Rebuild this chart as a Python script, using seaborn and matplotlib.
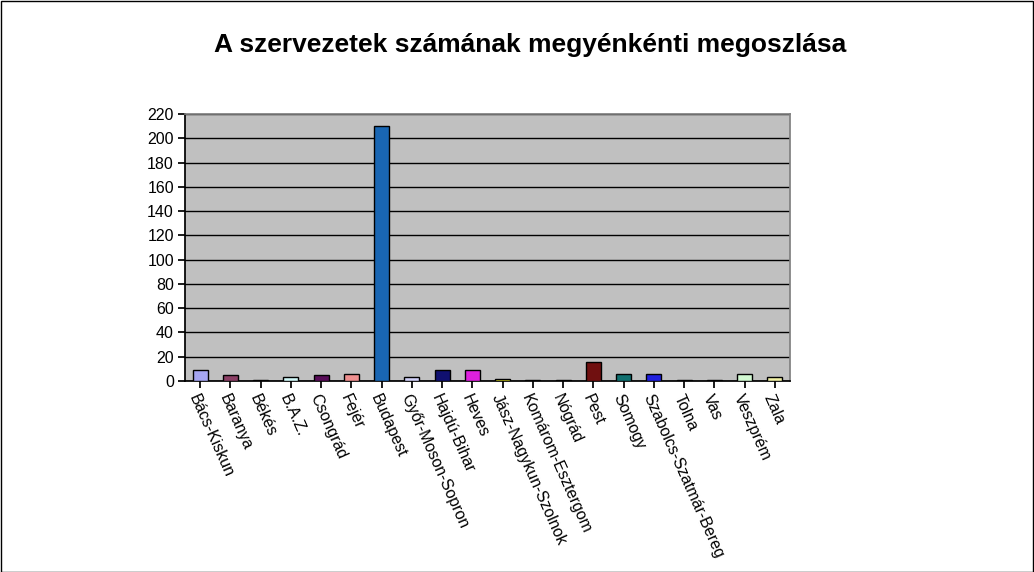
import matplotlib
matplotlib.use("Agg")
import matplotlib.pyplot as plt
import seaborn as sns
import pandas as pd

counties = ["Bács-Kiskun", "Baranya", "Békés", "B.A.Z.", "Csongrád", "Fejér", "Budapest",
            "Győr-Moson-Sopron", "Hajdú-Bihar", "Heves", "Jász-Nagykun-Szolnok",
            "Komárom-Esztergom", "Nógrád", "Pest", "Somogy", "Szabolcs-Szatmár-Bereg",
            "Tolna", "Vas", "Veszprém", "Zala"]
counts = [9, 5, 1, 3, 5, 6, 210, 3, 9, 9, 2, 1, 0.5, 16, 6, 6, 1, 1, 6, 3]
colors = ["#9999FF", "#993366", "#FFFFCC", "#CCFFFF", "#660066", "#FF8080", "#0066CC",
          "#CCCCFF", "#000080", "#FF00FF", "#FFFF00", "#00FFFF", "#800080", "#800000",
          "#008080", "#0000FF", "#00CCFF", "#CCFFFF", "#CCFFCC", "#FFFF99"]
yticks = list(range(0, 221, 20))

sns.set_theme(style="white")
plt.rcParams['font.family'] = ['Liberation Sans', 'DejaVu Sans']
plt.rcParams['text.color'] = 'black'
plt.rcParams['xtick.color'] = 'black'
plt.rcParams['ytick.color'] = 'black'

df = pd.DataFrame({"county": counties, "count": counts})

fig = plt.figure(figsize=(10.34, 5.72), dpi=100)
ax = fig.add_axes([185/1034, 1-381/572, (790-185)/1034, (381-114)/572])
ax.set_facecolor("#C0C0C0")
sns.barplot(data=df, x="county", y="count", hue="county", palette=colors, legend=False,
            width=0.5, edgecolor="black", linewidth=1, ax=ax, zorder=3)
ax.set_ylim(0, 220)
ax.set_xlim(-0.5, len(counties) - 0.5)
ax.set_yticks(yticks)
ax.set_yticklabels([str(v) for v in yticks], fontsize=11.5)
ax.yaxis.grid(True, color="black", linewidth=1)
ax.set_axisbelow(True)
ax.set_xticks([i for i in range(len(counties))])
ax.set_xticklabels(counties, rotation=-66, ha="left", va="top", rotation_mode="anchor", fontsize=11.5)
ax.tick_params(axis="both", length=5, color="black", direction="out", pad=3)
ax.tick_params(axis="x", bottom=True)
ax.tick_params(axis="y", left=True)
ax.set_xlabel("")
ax.set_ylabel("")
for s in ax.spines.values():
    s.set_color("#808080")
ax.spines["left"].set_color("black")
ax.spines["bottom"].set_color("black")

fig.text(530/1034, 1-45/572, "A szervezetek számának megyénkénti megoszlása",
         ha="center", va="center", fontsize=19, fontweight="bold", color="black")

border = plt.Rectangle((0.5/1034, 0.5/572), 1-1.5/1034, 1-1.5/572, transform=fig.transFigure,
                       fill=False, edgecolor="black", linewidth=1)
fig.patches.append(border)

fig.savefig("out.png", dpi=100)
